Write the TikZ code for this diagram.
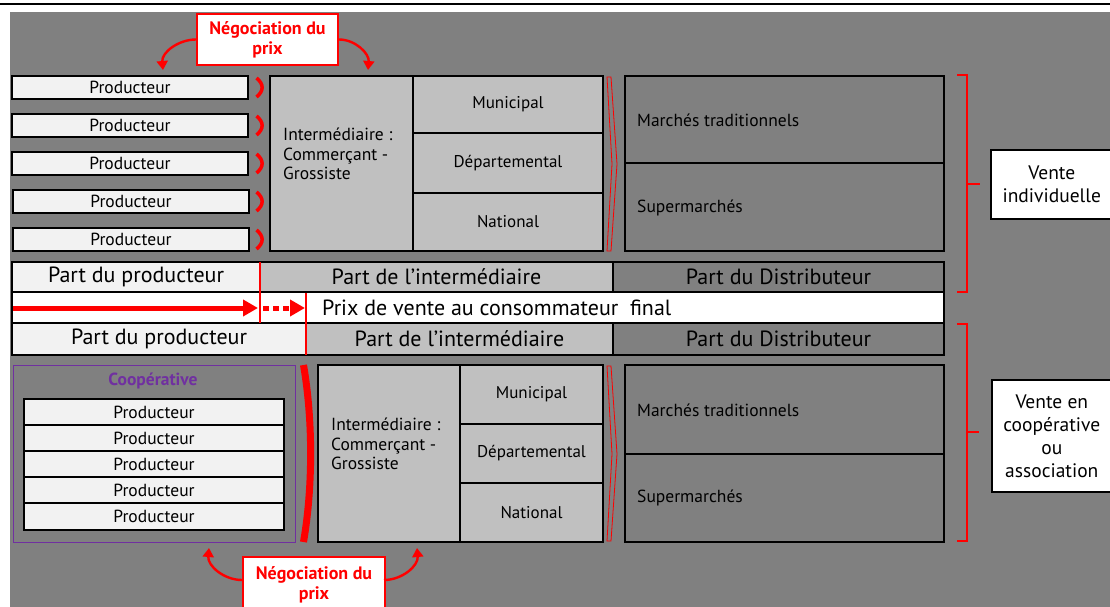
\documentclass[tikz,border=0pt]{standalone}
\usepackage{fontspec}
\setmainfont{PT Sans}
\usetikzlibrary{arrows.meta,calc}
\definecolor{bg}{HTML}{808080}
\definecolor{lite}{HTML}{F2F2F2}
\definecolor{mid}{HTML}{C0C0C0}
\definecolor{purp}{HTML}{7030A0}
\begin{document}
\begin{tikzpicture}[x=1pt,y=-1pt,
  cell/.style={draw=black, line width=1.6pt, anchor=north west, inner sep=0pt, outer sep=0pt},
  prodbox/.style={cell, fill=lite, font=\fontsize{17.5}{20}\selectfont},
  midbox/.style={cell, fill=mid, font=\fontsize{17}{20}\selectfont},
  darkbox/.style={cell, fill=bg},
  rowtxt/.style={font=\fontsize{22}{26}\selectfont},
  plain/.style={font=\fontsize{17.5}{19.5}\selectfont, align=left, anchor=west, inner sep=0pt},
  negbox/.style={draw=red, line width=2pt, fill=white, anchor=north west, inner sep=0pt, text=red,
     font=\fontsize{18}{20}\selectfont\bfseries, align=center},
  negarrow/.style={draw=red, line width=2.4pt, -{Triangle[length=9pt,width=11pt]}},
  redmark/.style={draw=red, line width=3.5pt},
  thinbr/.style={draw=red, line width=0.8pt},
  brace/.style={draw=red, line width=1.6pt},
  sidebox/.style={draw=black, line width=1.6pt, fill=white, anchor=north west, inner sep=0pt,
     font=\fontsize{19.5}{23}\selectfont, align=center},
  redsep/.style={draw=red, line width=1.3pt}
]
\useasboundingbox (0,0) rectangle (1110,607);
\fill[white] (0,0) rectangle (1110,607);
\draw[line width=2.4pt] (0,4) -- (1110,4);
\fill[bg] (10,12) rectangle (1110,607);

% ---------- top: vente individuelle ----------
\node[prodbox, minimum width=236, minimum height=23] (p1) at (12,76) {Producteur};
\node[prodbox, minimum width=236, minimum height=23] (p2) at (12,114) {Producteur};
\node[prodbox, minimum width=236, minimum height=23] (p3) at (12,152) {Producteur};
\node[prodbox, minimum width=236, minimum height=23] (p4) at (13,190) {Producteur};
\node[prodbox, minimum width=236, minimum height=23] (p5) at (13,228) {Producteur};
\foreach \t in {76,114,152,190,228}{
  \draw[redmark] (256.5,\t+2) .. controls (264,\t+8) and (264,\t+15) .. (256.5,\t+21);
}
\node[cell, fill=mid, minimum width=143, minimum height=175] (i1) at (270,76) {};
\node[plain] (i1t) at (283,154) {Intermédiaire :\\Commerçant -\\Grossiste};
\node[midbox, minimum width=190, minimum height=57] (m1) at (413,76) {Municipal};
\node[midbox, minimum width=190, minimum height=60] (d1) at (413,133) {Départemental};
\node[midbox, minimum width=190, minimum height=58] (n1) at (413,193) {National};
\draw[thinbr] (607,77) -- (611,77) -- (617,164) -- (611,251) -- (607,251) -- (612,164) -- cycle;
\node[darkbox, minimum width=319, minimum height=87] (mt1) at (625,76) {};
\node[plain] (mt1t) at (637,120) {Marchés traditionnels};
\node[darkbox, minimum width=319, minimum height=88] (sm1) at (625,163) {};
\node[plain] (sm1t) at (637,208) {Supermarchés};
\draw[brace] (957,75) -- (967,75) -- (967,292) -- (957,292);
\draw[brace] (967,184) -- (980,184);
\node[sidebox, minimum width=130, minimum height=69] (v1) at (990,149) {\hspace*{-8pt}Vente\\\hspace*{-8pt}individuelle};

\node[negbox, minimum width=141, minimum height=51] (nt) at (196,13) {Négociation du\\prix};
\coordinate (ntl) at (163,70);
\coordinate (ntr) at (368,70);
\draw[negarrow] (nt.west) to[out=180,in=95] (ntl);
\draw[negarrow] (nt.east) to[out=0,in=85] (ntr);

% ---------- price rows ----------
\node[cell, fill=lite, minimum width=248, minimum height=30, rowtxt] (r1a) at (12,262) {Part du producteur};
\node[cell, fill=mid, minimum width=353, minimum height=30, rowtxt] (r1b) at (260,262) {Part de l’intermédiaire};
\node[cell, fill=bg, minimum width=331, minimum height=30, rowtxt] (r1c) at (613,262) {Part du Distributeur};
\node[cell, fill=white, minimum width=932, minimum height=31] (r2) at (12,292) {};
\node[rowtxt, anchor=west, inner sep=0pt] (r2t) at (322,308) {Prix de vente au consommateur\ \ final};
\node[cell, fill=lite, minimum width=294, minimum height=32, rowtxt] (r3a) at (12,323) {Part du producteur};
\node[cell, fill=mid, minimum width=307, minimum height=32, rowtxt] (r3b) at (306,323) {Part de l’intermédiaire};
\node[cell, fill=bg, minimum width=331, minimum height=32, rowtxt] (r3c) at (613,323) {Part du Distributeur};
\draw[redsep] (r1b.north west) -- (260,323);
\draw[redsep] (306,293) -- (r3b.south west);
\coordinate (a0) at (13,308);
\coordinate (a1) at (258,308);
\coordinate (a2) at (263,308);
\coordinate (a3) at (305,308);
\draw[red, line width=5pt, -{Triangle[length=15pt,width=16pt]}] (a0) -- (a1);
\draw[red, line width=5pt, dash pattern=on 6pt off 4pt, -{Triangle[length=15pt,width=16pt]}] (a2) -- (a3);

% ---------- bottom: cooperative ----------
\node[draw=purp, line width=1.3pt, anchor=north west, inner sep=0pt, minimum width=282, minimum height=177] (coop) at (13,365) {};
\node[text=purp, font=\fontsize{17.5}{20}\selectfont\bfseries] (coopt) at (153,381) {Coopérative};
\node[prodbox, minimum width=260, minimum height=26] (q1) at (24,399) {Producteur};
\node[prodbox, minimum width=260, minimum height=26] (q2) at (24,425) {Producteur};
\node[prodbox, minimum width=260, minimum height=26] (q3) at (24,451) {Producteur};
\node[prodbox, minimum width=260, minimum height=26] (q4) at (24,477) {Producteur};
\node[prodbox, minimum width=260, minimum height=27] (q5) at (24,503) {Producteur};
\draw[red, line width=7pt] (303.5,365) .. controls (313,420) and (313,487) .. (303.5,542);
\node[cell, fill=mid, minimum width=142, minimum height=177] (i2) at (318,365) {};
\node[plain] (i2t) at (331,444) {Intermédiaire :\\Commerçant -\\Grossiste};
\node[midbox, minimum width=143, minimum height=59] (m2) at (460,365) {Municipal};
\node[midbox, minimum width=143, minimum height=59] (d2) at (460,424) {Départemental};
\node[midbox, minimum width=143, minimum height=59] (n2) at (460,483) {National};
\draw[thinbr] (607,366) -- (611,366) -- (617,454) -- (611,541) -- (607,541) -- (612,454) -- cycle;
\node[darkbox, minimum width=319, minimum height=89] (mt2) at (625,365) {};
\node[plain] (mt2t) at (637,410) {Marchés traditionnels};
\node[darkbox, minimum width=319, minimum height=88] (sm2) at (625,454) {};
\node[plain] (sm2t) at (637,498) {Supermarchés};
\draw[brace] (957,324) -- (967,324) -- (967,541) -- (957,541);
\draw[brace] (967,432) -- (979,432);
\node[sidebox, minimum width=130, minimum height=112] (v2) at (991,379) {\hspace*{-10pt}Vente en\\\hspace*{-10pt}coopérative\\\hspace*{-10pt}ou\\\hspace*{-10pt}association};

\node[negbox, minimum width=142, minimum height=56] (nb) at (242,556) {Négociation du\\prix};
\coordinate (nbl) at (209,548);
\coordinate (nbr) at (417,548);
\coordinate (nbls) at (242,580);
\coordinate (nbrs) at (384,580);
\draw[negarrow] (nbls) to[out=180,in=-95] (nbl);
\draw[negarrow] (nbrs) to[out=0,in=-85] (nbr);
\end{tikzpicture}
\end{document}
